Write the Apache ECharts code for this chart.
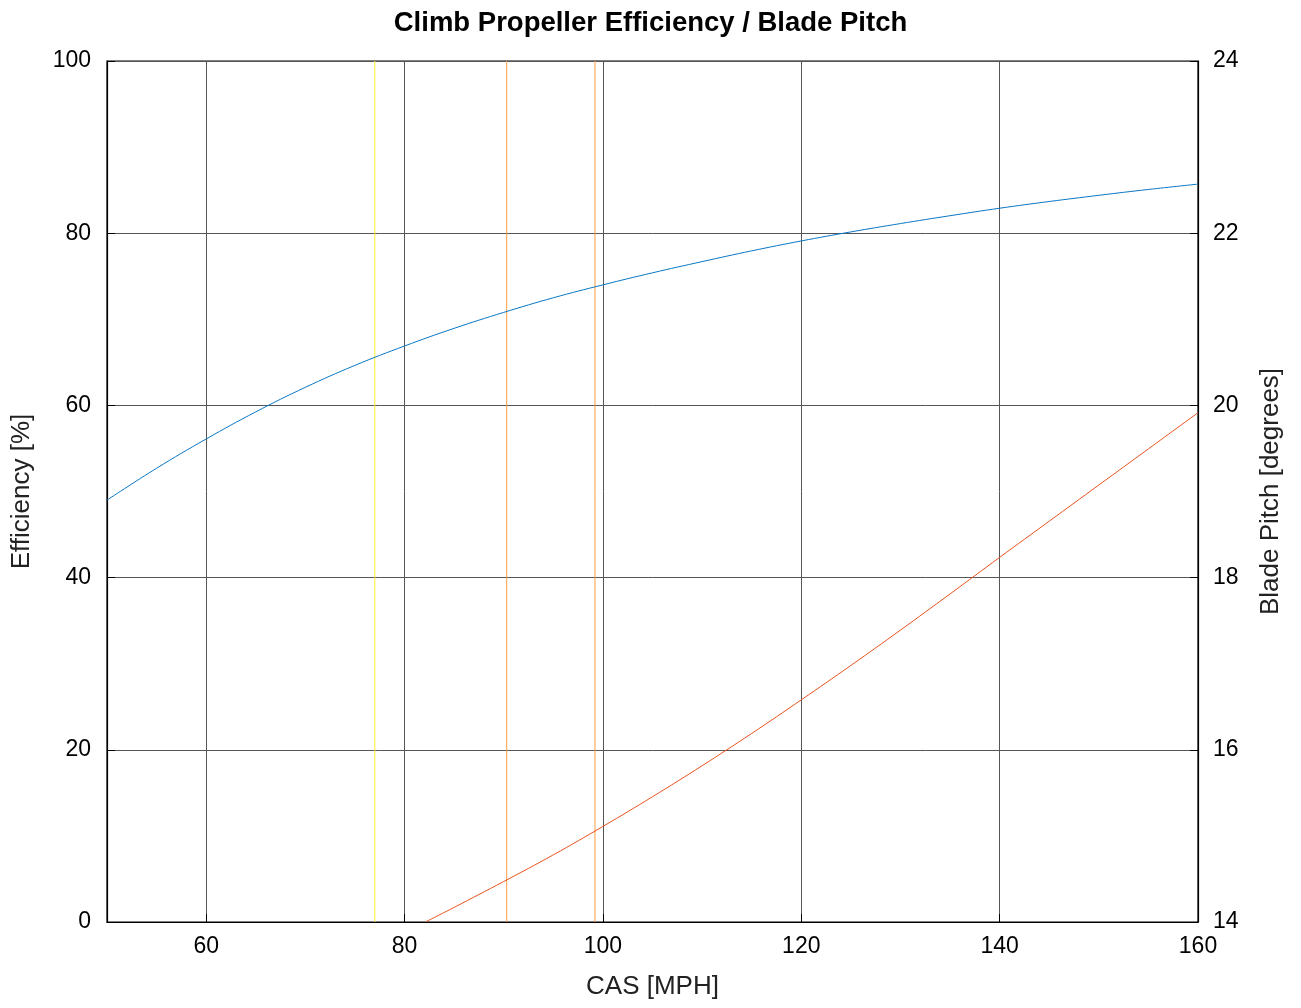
<!DOCTYPE html>
<html>
<head>
<meta charset="utf-8">
<script src="https://cdn.jsdelivr.net/npm/echarts@6/dist/echarts.min.js"></script>
<style>html,body{margin:0;padding:0;background:#fff}#c{width:1301px;height:1008px}</style>
</head>
<body>
<div id="c"></div>
<script>
// CAS [MPH]
const casEff = [50,55,60,65,70,75,80,85,90,95,100,105,110,115,120,125,130,135,140,145,150,155,160];
// Efficiency [%]
const efficiency = [49.0,52.7,56.1,59.25,62.1,64.65,66.9,68.95,70.8,72.5,74.0,75.4,76.7,77.95,79.1,80.15,81.12,82.03,82.9,83.68,84.4,85.08,85.7];
// Blade pitch [degrees]
const casPitch = [82.1,85,90,95,100,105,110,115,120,125,130,135,140,145,150,155,160];
const bladePitch = [14.0,14.17,14.47,14.78,15.11,15.455,15.815,16.19,16.58,16.98,17.39,17.81,18.235,18.655,19.075,19.495,19.915];
// Vertical marker speeds
const markerSpeeds = [77.0, 90.3, 99.2];
const markerColors = ['#ffee33', '#ff9a40', '#ff9a40'];

const chart = echarts.init(document.getElementById('c'), null, {renderer: 'canvas'});
const font = 'Liberation Sans, Arial, Helvetica, sans-serif';
const series = [
  {
    name: 'Efficiency', type: 'line', xAxisIndex: 0, yAxisIndex: 0,
    data: casEff.map((x, i) => [x, efficiency[i]]),
    smooth: 0.4, showSymbol: false, lineStyle: {color: '#0a77c4', width: 1}, z: 5
  },
  {
    name: 'Blade Pitch', type: 'line', xAxisIndex: 0, yAxisIndex: 1,
    data: casPitch.map((x, i) => [x, bladePitch[i]]),
    smooth: 0.4, showSymbol: false, lineStyle: {color: '#e8531d', width: 1}, z: 5
  }
];
markerSpeeds.forEach((s, i) => {
  series.push({
    type: 'line', xAxisIndex: 0, yAxisIndex: 0,
    data: [[s, 0], [s, 100]], showSymbol: false,
    lineStyle: {color: markerColors[i], width: 1}, z: 4
  });
});

chart.setOption({
  animation: false,
  backgroundColor: '#fff',
  title: {
    text: 'Climb Propeller Efficiency / Blade Pitch', left: 'center', top: 4,
    textStyle: {fontFamily: font, fontWeight: 'bold', fontSize: 27.5, color: '#000'}
  },
  grid: {left: 107, right: 103, top: 61, bottom: 86, show: true, borderColor: '#000', borderWidth: 1.2, backgroundColor: 'transparent'},
  xAxis: [
    {
      type: 'value', min: 50, max: 160, splitNumber: 5, position: 'bottom',
      name: 'CAS [MPH]', nameLocation: 'middle', nameGap: 52,
      nameTextStyle: {fontFamily: font, fontSize: 26, color: '#222'},
      axisLine: {show: true, onZero: false, lineStyle: {color: '#000', width: 1.2}},
      axisTick: {show: true, inside: true, length: 8, lineStyle: {color: '#000'}},
      axisLabel: {fontFamily: font, fontSize: 23, color: '#000', margin: 13, showMinLabel: false,
        formatter: v => (v % 20 === 0 ? String(v) : '')},
      splitLine: {show: true, lineStyle: {color: '#555', width: 1}}
    }
  ],
  yAxis: [
    {
      type: 'value', min: 0, max: 100, interval: 20, position: 'left',
      name: 'Efficiency [%]', nameLocation: 'middle', nameGap: 72, nameRotate: 90,
      nameTextStyle: {fontFamily: font, fontSize: 26, color: '#222'},
      axisLine: {show: true, lineStyle: {color: '#000', width: 1.2}},
      axisTick: {show: true, inside: true, length: 8, lineStyle: {color: '#000'}},
      axisLabel: {fontFamily: font, fontSize: 23, color: '#000', margin: 16},
      splitLine: {show: true, lineStyle: {color: '#555', width: 1}}
    },
    {
      type: 'value', min: 14, max: 24, interval: 2, position: 'right',
      name: 'Blade Pitch [degrees]', nameLocation: 'middle', nameGap: 60, nameRotate: 90,
      nameTextStyle: {fontFamily: font, fontSize: 26, color: '#222'},
      axisLine: {show: true, lineStyle: {color: '#000', width: 1.2}},
      axisTick: {show: true, inside: true, length: 8, lineStyle: {color: '#000'}},
      axisLabel: {fontFamily: font, fontSize: 23, color: '#000', margin: 15},
      splitLine: {show: false}
    }
  ],
  series: series
});
</script>
</body>
</html>
